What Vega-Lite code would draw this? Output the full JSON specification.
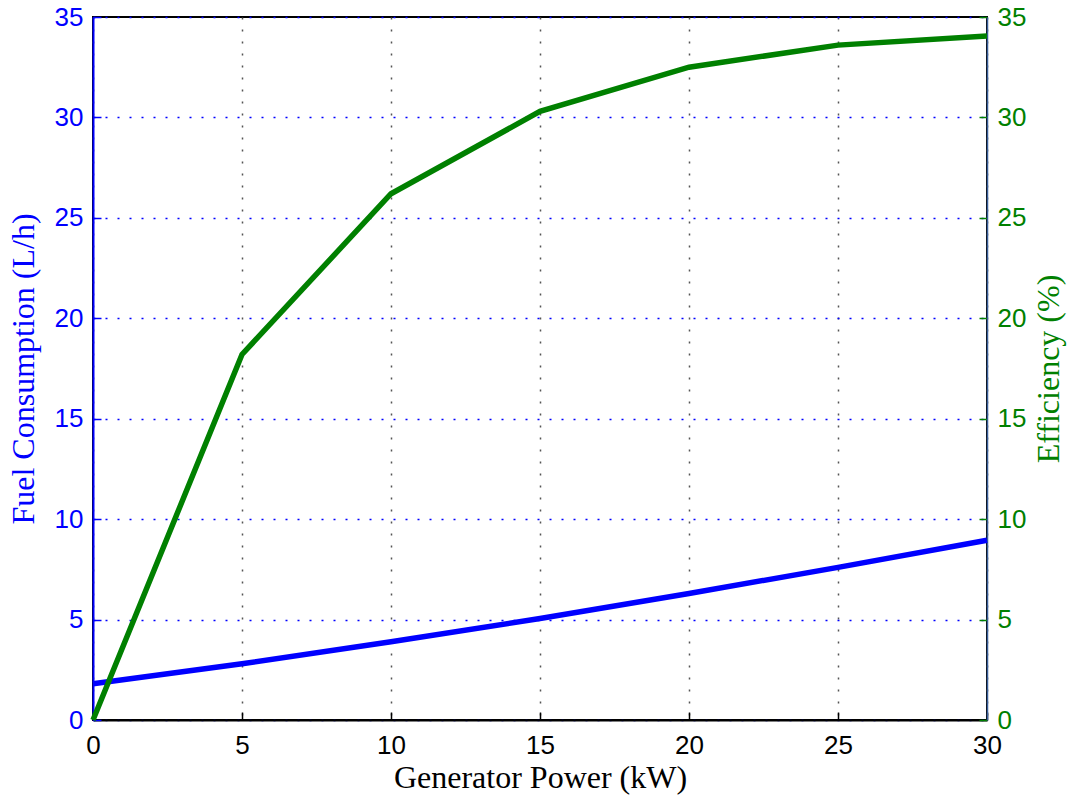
{
  "$schema": "https://vega.github.io/schema/vega-lite/v6.json",
  "autosize": {"type": "none"},
  "padding": {"left": 93, "top": 17, "right": 86, "bottom": 77},
  "width": 894,
  "height": 703,
  "background": "white",
  "config": {
    "view": {"stroke": "black", "strokeWidth": 2},
    "axis": {
      "labelFont": "Liberation Sans",
      "labelFontSize": 26,
      "titleFont": "Liberation Serif",
      "titleFontSize": 32,
      "titleFontWeight": "normal",
      "tickSize": -8,
      "tickWidth": 1.5,
      "labelPadding": 18,
      "labelFlush": false,
      "domainWidth": 2
    }
  },
  "data": {
    "values": [
      {"power": 0, "fuel": 1.8, "efficiency": 0},
      {"power": 5, "fuel": 2.8, "efficiency": 18.2},
      {"power": 10, "fuel": 3.9, "efficiency": 26.2},
      {"power": 15, "fuel": 5.05, "efficiency": 30.3},
      {"power": 20, "fuel": 6.3, "efficiency": 32.5},
      {"power": 25, "fuel": 7.6, "efficiency": 33.6},
      {"power": 30, "fuel": 8.95, "efficiency": 34.05}
    ]
  },
  "encoding": {
    "x": {
      "field": "power",
      "type": "quantitative",
      "scale": {"domain": [0, 30], "nice": false, "zero": false},
      "axis": {
        "title": "Generator Power (kW)",
        "values": [0, 5, 10, 15, 20, 25, 30],
        "domainColor": "black",
        "tickColor": "black",
        "labelColor": "black",
        "titleColor": "black",
        "labelPadding": 20,
        "titlePadding": 4,
        "grid": true,
        "gridColor": "#555555",
        "gridDash": [2, 10],
        "gridWidth": 1.5
      }
    }
  },
  "layer": [
    {
      "mark": {"type": "line", "color": "#0000ff", "strokeWidth": 5.5},
      "encoding": {
        "y": {
          "field": "fuel",
          "type": "quantitative",
          "scale": {"domain": [0, 35], "nice": false},
          "axis": {
            "title": "Fuel Consumption (L/h)",
            "orient": "left",
            "values": [0, 5, 10, 15, 20, 25, 30, 35],
            "domainColor": "#0000ff",
            "tickColor": "#0000ff",
            "labelColor": "#0000ff",
            "titleColor": "#0000ff",
            "titlePadding": 14,
            "grid": true,
            "gridColor": "#0000ff",
            "gridDash": [2, 10],
            "gridWidth": 1.5
          }
        }
      }
    },
    {
      "mark": {"type": "line", "color": "#008000", "strokeWidth": 5.5},
      "encoding": {
        "y": {
          "field": "efficiency",
          "type": "quantitative",
          "scale": {"domain": [0, 35], "nice": false},
          "axis": {
            "title": "Efficiency (%)",
            "orient": "right",
            "values": [0, 5, 10, 15, 20, 25, 30, 35],
            "domainColor": "#3a5f9a",
            "domainWidth": 1.5,
            "tickColor": "#008000",
            "labelColor": "#008000",
            "titleColor": "#008000",
            "titleAngle": 270,
            "titlePadding": 40,
            "grid": false
          }
        }
      }
    }
  ],
  "resolve": {"scale": {"y": "independent"}}
}
